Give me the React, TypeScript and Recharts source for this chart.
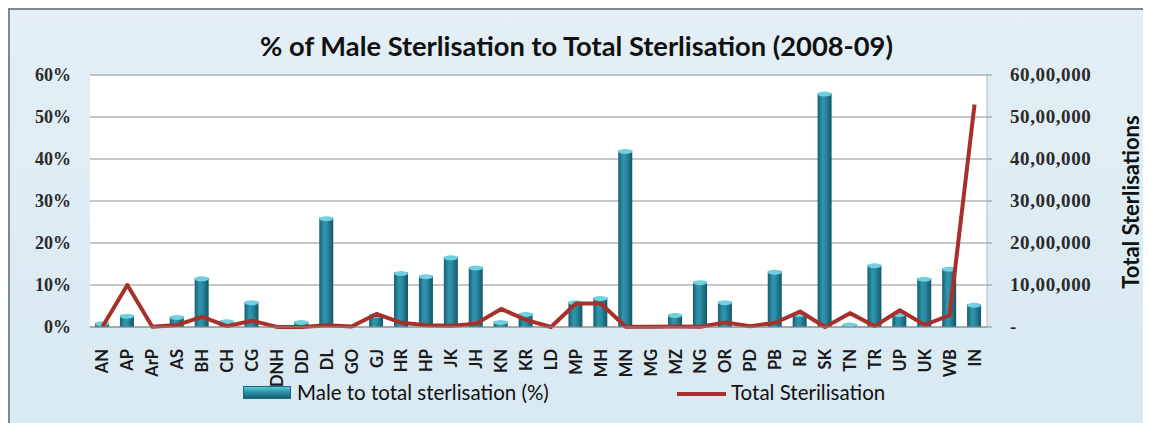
import React from "react";
import { ComposedChart, Bar, Line, XAxis, YAxis, CartesianGrid } from "recharts";

const categories = ["AN","AP","ArP","AS","BH","CH","CG","DNH","DD","DL","GO","GJ","HR","HP","JK","JH","KN","KR","LD","MP","MH","MN","MG","MZ","NG","OR","PD","PB","RJ","SK","TN","TR","UP","UK","WB","IN"];
const malePct = [1.0,2.8,0,2.5,11.7,1.5,6.0,0,1.3,26.0,0,3.0,13.0,12.2,16.7,14.3,1.3,3.2,0,6.0,7.0,42.0,0,3.0,10.8,6.0,0,13.3,3.2,55.7,0.7,14.8,3.2,11.6,14.0,5.4];
const totalSter = [5000,1000000,5000,50000,240000,20000,150000,2000,1000,40000,10000,310000,100000,40000,30000,80000,430000,170000,0,560000,560000,5000,5000,10000,5000,110000,20000,100000,370000,1000,330000,20000,400000,50000,280000,5300000];
const leftTicks = [0,10,20,30,40,50,60];
const rightTicks = [0,1000000,2000000,3000000,4000000,5000000,6000000];

const data = categories.map((c, i) => ({ cat: c, male: malePct[i], total: totalSter[i] }));

function indianFormat(v: number): string {
  if (v === 0) return "-";
  const s = String(Math.round(v));
  const last3 = s.slice(-3);
  let rest = s.slice(0, -3);
  const parts: string[] = [];
  while (rest.length > 2) {
    parts.unshift(rest.slice(-2));
    rest = rest.slice(0, -2);
  }
  if (rest.length) parts.unshift(rest);
  return parts.length ? parts.join(",") + "," + last3 : last3;
}

const CylBar = (props: any) => {
  const { x, y, width, height } = props;
  if (!height || height <= 0.5) return null;
  return (
    <g>
      <rect x={x} y={y} width={width} height={height} fill="url(#barGrad)" />
      <ellipse cx={x + width / 2} cy={y + 1} rx={width / 2} ry={2.5} fill="#6fd0e0" />
    </g>
  );
};

const LeftTick = (props: any) => {
  const { x, y, payload } = props;
  return (
    <text x={x - 11} y={y} dy={6} textAnchor="end" fontFamily="'Liberation Serif', serif" fontSize={18} fontWeight={700} fill="#2a2a2a">
      {payload.value}%
    </text>
  );
};

const RightTick = (props: any) => {
  const { x, y, payload } = props;
  return (
    <text x={x + 16} y={y} dy={6} textAnchor="start" fontFamily="'Liberation Serif', serif" fontSize={19} fontWeight={700} letterSpacing={0.6} fill="#2a2a2a">
      {indianFormat(payload.value)}
    </text>
  );
};

const XTick = (props: any) => {
  const { x, y, payload } = props;
  const ty = y + 14;
  return (
    <text x={x} y={ty} transform={`rotate(-90, ${x}, ${ty})`} dy={6} textAnchor="end" fontFamily="Lato, sans-serif" fontSize={16.5} fontWeight={700} fill="#1a1a1a">
      {payload.value}
    </text>
  );
};

export default function App() {
  return (
    <div style={{ position: "relative", width: 1137, height: 415, boxSizing: "border-box", borderTop: "2px solid #7d878c", borderLeft: "2px solid #7d878c", borderRight: "2px solid #b5c3ca", background: "linear-gradient(180deg, #e3eff5 0%, #d8e9f1 100%)" }}>
      <div style={{ position: "absolute", left: 0, top: 19, width: 1133, textAlign: "center", fontFamily: "Lato, sans-serif", fontWeight: 700, fontSize: 27.3, color: "#111" }}>
        % of Male Sterlisation to Total Sterlisation (2008-09)
      </div>
      <div style={{ position: "absolute", left: 233, top: 376, width: 48, height: 13, background: "linear-gradient(180deg, #5ec8da 0%, #2a8ca3 50%, #155f74 100%)", border: "1px solid #1a6a80", boxSizing: "border-box" }} />
      <div style={{ position: "absolute", left: 287, top: 370, fontFamily: "Lato, sans-serif", fontSize: 20.5, color: "#111", whiteSpace: "nowrap" }}>
        Male to total sterlisation (%)
      </div>
      <div style={{ position: "absolute", left: 667, top: 382, width: 49, height: 4, background: "#a8302b" }} />
      <div style={{ position: "absolute", left: 721, top: 370, fontFamily: "Lato, sans-serif", fontSize: 20.5, color: "#111", whiteSpace: "nowrap" }}>
        Total Sterilisation
      </div>
      <div style={{ position: "absolute", left: 0, top: 0 }}>
        <ComposedChart width={1133} height={408} data={data} margin={{ top: 65, right: 0, bottom: 0, left: 0 }}>
          <defs>
            <linearGradient id="barGrad" x1="0" y1="0" x2="1" y2="0">
              <stop offset="0%" stopColor="#155f74" />
              <stop offset="35%" stopColor="#2f95ad" />
              <stop offset="55%" stopColor="#2b8ca3" />
              <stop offset="100%" stopColor="#12566a" />
            </linearGradient>
          </defs>
          <CartesianGrid yAxisId="left" vertical={false} stroke="#8e8e8e" fill="#ffffff" />
          <XAxis dataKey="cat" interval={0} height={91} tick={<XTick />} tickLine={false} axisLine={{ stroke: "#8e8e8e" }} />
          <YAxis yAxisId="left" domain={[0, 60]} ticks={leftTicks} width={80} tick={<LeftTick />} tickLine={false} axisLine={false} />
          <YAxis yAxisId="right" orientation="right" domain={[0, 6000000]} ticks={rightTicks} width={156} tick={<RightTick />} tickLine={{ stroke: "#8e8e8e" }} tickSize={5} axisLine={{ stroke: "#b8b8b8" }} />
          <Bar yAxisId="left" dataKey="male" barSize={14} shape={<CylBar />} isAnimationActive={false} />
          <Line yAxisId="right" dataKey="total" type="linear" stroke="#a8302b" strokeWidth={4} dot={false} strokeLinejoin="round" isAnimationActive={false} />
        </ComposedChart>
      </div>
      <div style={{ position: "absolute", left: 1120, top: 192, transform: "translate(-50%, -50%) rotate(-90deg)", whiteSpace: "nowrap", fontFamily: "Lato, sans-serif", fontWeight: 700, fontSize: 22, color: "#111" }}>
        Total Sterlisations
      </div>
    </div>
  );
}
